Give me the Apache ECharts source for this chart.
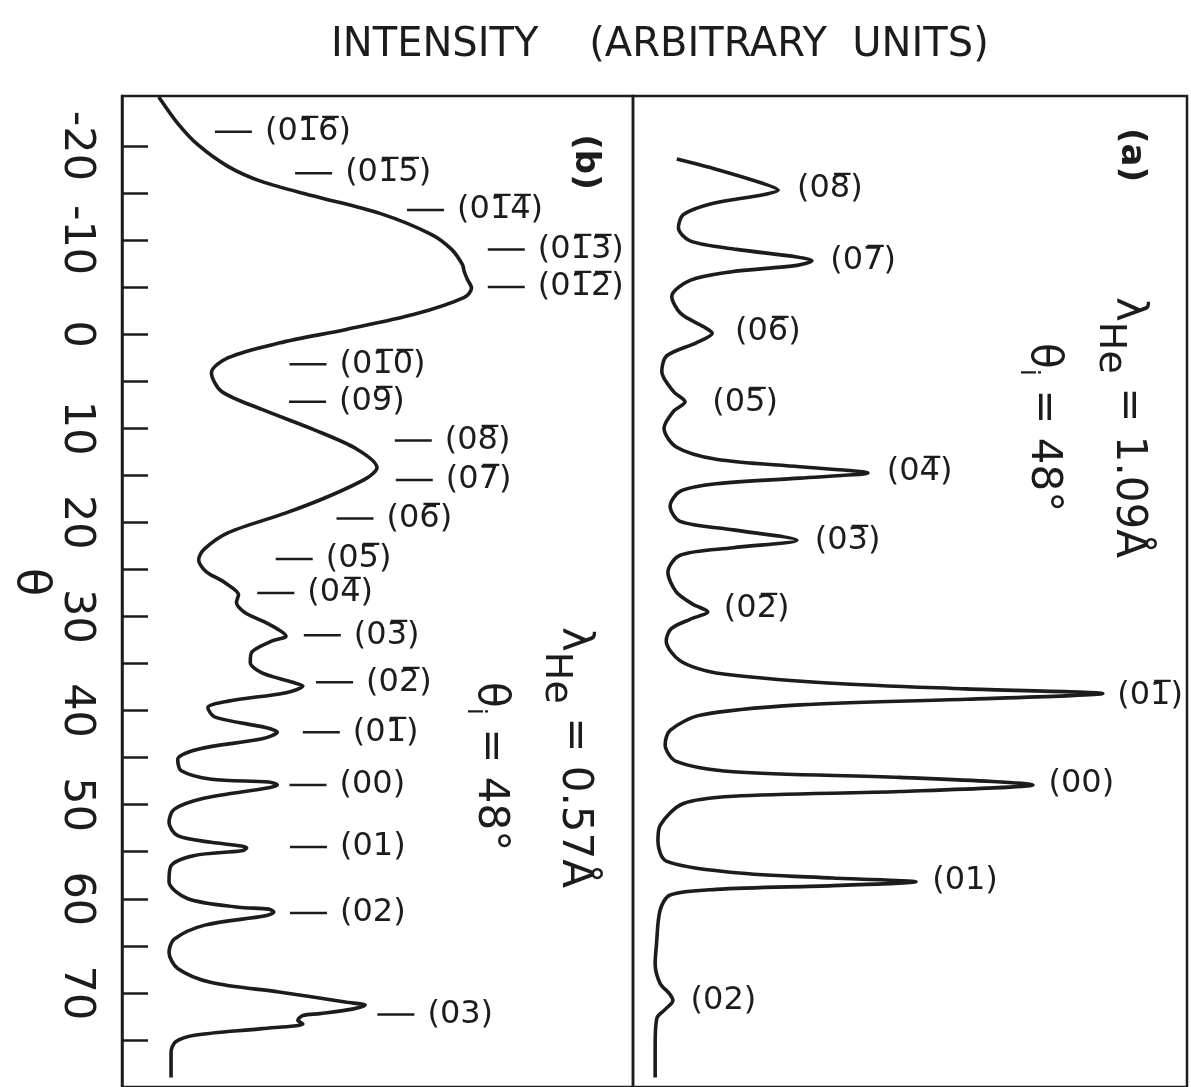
<!DOCTYPE html>
<html>
<head>
<meta charset="utf-8">
<title>He diffraction</title>
<script src="https://cdn.jsdelivr.net/npm/echarts@6/dist/echarts.min.js"></script>
<style>
  html, body { margin: 0; padding: 0; background: #fff; }
  #chart { width: 1191px; height: 1087px; }
</style>
</head>
<body>
<div id="chart"></div>
<script>
//////////// DATA
// theta (deg) and intensity (arbitrary units, 0-100 of panel width)
var thetaB = [-25.2, -22.4, -20.1, -17.8, -16.2, -14.7, -12.8, -10.6, -9.0, -7.4, -6.6, -5.8, -4.9, -3.9, -2.1, -0.5, 0.95, 2.5, 4.1, 6.1, 8.0, 10.1, 12.2, 14.2, 15.3, 17.2, 19.0, 21.1, 22.9, 24.0,
  25.2, 26.4, 27.7, 28.5, 29.6, 30.8, 32.1, 32.6, 33.8, 34.9, 36.0, 37.0, 37.4, 38.1, 39.0, 39.7, 40.7, 41.8, 42.3, 43.0, 44.1, 45.2, 46.4, 47.3, 47.6, 47.9, 48.2, 49.3, 50.5, 51.9,
  53.3, 54.0, 54.4, 54.6, 54.9, 55.4, 56.5, 58.2, 60.0, 60.9, 61.1, 61.4, 61.8, 62.8, 64.3, 65.7, 67.4, 68.9, 69.9, 71.0, 71.3, 71.7, 72.2, 72.4, 72.9, 73.3, 73.8, 74.5, 75.2, 76.3, 79.0];
var intensityB = [7.2, 10.9, 14.9, 20.8, 27.4, 37.3, 50.6, 60.5, 64.5, 66.6, 67.0, 67.6, 68.4, 67.0, 57.2, 43.9, 30.7, 20.8, 17.5, 19.5, 27.4, 37.3, 45.9, 49.9, 47.9, 40.6, 32.1, 20.8, 16.0, 15.0,
  16.4, 20.1, 22.8, 22.4, 24.1, 28.7, 32.1, 29.4, 25.4, 25.1, 27.4, 33.4, 35.4, 32.1, 20.8, 16.8, 18.2, 28.1, 30.4, 27.4, 14.9, 10.9, 11.6, 17.5, 28.7, 30.4, 28.7, 16.2, 10.2, 9.2,
  10.9, 17.5, 23.4, 24.4, 23.4, 14.2, 9.6, 9.2, 12.9, 22.8, 28.7, 29.7, 28.1, 16.2, 10.2, 9.2, 10.9, 17.5, 30.7, 44.0, 47.6, 45.3, 38.7, 35.4, 34.4, 35.4, 27.4, 14.2, 10.5, 9.6, 9.6];

var thetaA = [-18.6, -17.6, -16.0, -15.3, -14.8, -13.9, -12.7, -11.3, -9.9, -9.0, -8.2, -7.8, -7.3, -6.6, -5.7, -4.0, -2.2, -0.8, -0.1, 0.9, 2.3, 4.0, 6.1, 7.2, 8.2, 10.0,
  12.0, 13.3, 14.1, 14.75, 15.3, 15.9, 16.7, 18.3, 19.9, 20.8, 21.9, 22.7, 23.5, 25.3, 27.4, 28.7, 29.5, 30.3, 31.3, 32.6, 34.7, 36.0, 37.1, 37.7, 38.2, 38.8, 39.4, 40.5, 42.1, 43.6,
  45.4, 46.5, 47.1, 47.9, 48.6, 49.1, 49.9, 52.2, 53.9, 56.0, 57.2, 57.8, 58.2, 58.6, 59.0, 59.6, 61.2, 65.1, 66.9, 69.0, 70.1, 70.8, 71.7, 72.7, 75.5, 79.0];
var intensityA = [7.9, 14.5, 23.5, 26.2, 23.5, 14.5, 9.1, 8.2, 10.3, 18.7, 29.6, 32.3, 29.6, 17.5, 10.3, 7.0, 8.6, 12.7, 14.3, 11.5, 6.1, 5.2, 7.3, 9.4, 7.3, 5.6,
  7.8, 15.0, 30.1, 42.4, 30.1, 15.0, 8.5, 6.7, 8.5, 18.1, 29.6, 18.1, 8.5, 6.3, 7.8, 10.8, 13.5, 10.3, 6.9, 6.0, 8.5, 15.0, 36.1, 60.1, 84.8, 60.1, 30.1, 12.1, 6.7, 5.8,
  7.8, 18.1, 48.2, 72.2, 48.2, 18.1, 9.0, 4.9, 4.5, 6.0, 18.1, 36.1, 51.1, 36.1, 15.0, 6.7, 4.9, 4.2, 4.0, 4.9, 6.6, 7.2, 5.9, 4.3, 4.0, 4.0];

// peak labels, panel (b): index, theta, dash position
var peakNamesB = ['-16', '-15', '-14', '-13', '-12', '-10', '-9', '-8', '-7', '-6', '-5', '-4', '-3', '-2', '-1', '0', '1', '2', '3'];
var peakThetaB = [-21.5, -17.1, -13.2, -9.0, -5.0, 3.2, 7.2, 11.3, 15.5, 19.6, 23.9, 27.5, 32.0, 37.0, 42.3, 47.9, 54.5, 61.5, 72.3];
var peakDashB = [21.8, 37.5, 59.4, 75.2, 75.2, 36.4, 36.3, 57.0, 57.2, 45.6, 33.7, 30.1, 39.2, 41.6, 39.0, 36.4, 36.5, 36.5, 53.6];

// peak labels, panel (a)
var peakNamesA = ['-8', '-7', '-6', '-5', '-4', '-3', '-2', '-1', '0', '1', '2'];
var peakThetaA = [-15.5, -7.8, -0.3, 7.3, 14.6, 22.0, 29.2, 38.4, 47.8, 58.1, 70.8];
var peakTextA = [29.6, 35.6, 18.4, 14.3, 45.8, 32.8, 16.4, 87.4, 75.0, 54.0, 10.4];

var thetaTicks = [-20, -15, -10, -5, 0, 5, 10, 15, 20, 25, 30, 35, 40, 45, 50, 55, 60, 65, 70, 75];
var thetaLabels = [-20, -10, 0, 10, 20, 30, 40, 50, 60, 70];

//////////// HELPERS
var FONT = 'DejaVu Sans';
var INK = '#1c1c1c';

function zip(xs, ys) {
  return ys.map(function (y, i) { return [xs[i], y]; });
}
// (0 k) with an overbar on negative k
function hkl(k) {
  if (k.charAt(0) === '-') {
    return '(0' + k.slice(1).split('').map(function (c) { return c + '\u0305'; }).join('') + ')';
  }
  return '(0' + k + ')';
}

var labelDataB = peakNamesB.map(function (n, i) { return { name: hkl(n), value: [peakDashB[i], peakThetaB[i]] }; });
var labelDataA = peakNamesA.map(function (n, i) { return { name: hkl(n), value: [peakTextA[i], peakThetaA[i]] }; });

// rotated annotation with a subscript
function rotatedNote(x, y, main, sub, rest, subSize, subDrop) {
  return {
    type: 'text', x: x, y: y, rotation: -Math.PI / 2,
    style: {
      text: '{m|' + main + '}{s|' + sub + '}{m|' + rest + '}',
      align: 'left', verticalAlign: 'middle', fill: INK,
      rich: {
        m: { fontFamily: FONT, fontSize: 42, lineHeight: 42, color: INK },
        s: { fontFamily: FONT, fontSize: subSize, lineHeight: subSize, padding: [subDrop, 0, 0, 0], color: INK }
      }
    }
  };
}

//////////// CHART
var chart = echarts.init(document.getElementById('chart'));

var yRange = { min: -25.3, max: 80 };
var gridTop = 96, gridHeight = 1006;

var option = {
  animation: false,
  backgroundColor: '#fff',
  title: {
    text: 'INTENSITY    (ARBITRARY  UNITS)',
    left: 326,
    top: 21,
    textStyle: { fontFamily: FONT, fontSize: 40, fontWeight: 'normal', color: INK }
  },
  grid: [
    { left: 122, top: gridTop, width: 511, height: gridHeight, show: true, borderColor: INK, borderWidth: 2.5, backgroundColor: 'transparent' },
    { left: 633, top: gridTop, width: 554, height: gridHeight, show: true, borderColor: INK, borderWidth: 2.5, backgroundColor: 'transparent' }
  ],
  xAxis: [
    { gridIndex: 0, type: 'value', min: 0, max: 100, show: false },
    { gridIndex: 1, type: 'value', min: 0, max: 100, show: false }
  ],
  yAxis: [
    {
      gridIndex: 0, type: 'value', inverse: true, min: yRange.min, max: yRange.max,
      splitLine: { show: false },
      axisLine: { show: true, lineStyle: { color: INK, width: 2.5 } },
      axisTick: { show: true, inside: true, length: 26, lineStyle: { color: INK, width: 2.5 }, customValues: thetaTicks },
      axisLabel: {
        show: true, rotate: -90, margin: 24, customValues: thetaLabels,
        fontFamily: FONT, fontSize: 43, color: INK
      }
    },
    {
      gridIndex: 1, type: 'value', inverse: true, min: yRange.min, max: yRange.max,
      show: false, splitLine: { show: false }
    }
  ],
  series: [
    {
      name: 'b', type: 'line', xAxisIndex: 0, yAxisIndex: 0,
      data: zip(intensityB, thetaB),
      showSymbol: false, smooth: 0.3, silent: true,
      lineStyle: { color: INK, width: 3.6 }
    },
    {
      name: 'a', type: 'line', xAxisIndex: 1, yAxisIndex: 1,
      data: zip(intensityA, thetaA),
      showSymbol: false, smooth: 0.3, silent: true,
      lineStyle: { color: INK, width: 3.6 }
    },
    {
      name: 'labels b', type: 'scatter', xAxisIndex: 0, yAxisIndex: 0,
      data: labelDataB, symbol: 'rect', symbolSize: [37, 2.5], silent: true,
      itemStyle: { color: INK, opacity: 1 },
      label: {
        show: true, position: 'right', distance: 13, opacity: 1,
        formatter: '{b}', fontFamily: FONT, fontSize: 32, color: INK
      }
    },
    {
      name: 'labels a', type: 'scatter', xAxisIndex: 1, yAxisIndex: 1,
      data: labelDataA, symbolSize: 0, silent: true,
      itemStyle: { color: INK, opacity: 1 },
      label: {
        show: true, position: 'right', distance: 0, opacity: 1,
        formatter: '{b}', fontFamily: FONT, fontSize: 32, color: INK
      }
    }
  ],
  graphic: [
    // theta axis name
    { type: 'text', x: 30, y: 582, rotation: -Math.PI / 2,
      style: { text: '\u03B8', fontFamily: FONT, fontSize: 46, fill: INK, align: 'center', verticalAlign: 'middle' } },
    // panel tags
    { type: 'text', x: 585, y: 162, rotation: -Math.PI / 2,
      style: { text: '(b)', fontFamily: FONT, fontSize: 34, fontWeight: 'bold', fill: INK, align: 'center', verticalAlign: 'middle' } },
    { type: 'text', x: 1131, y: 155, rotation: -Math.PI / 2,
      style: { text: '(a)', fontFamily: FONT, fontSize: 34, fontWeight: 'bold', fill: INK, align: 'center', verticalAlign: 'middle' } },
    // conditions
    rotatedNote(1128, 297, '\u03BB', 'He', ' = 1.09\u00C5', 38, 36),
    rotatedNote(1043, 343, '\u03B8', 'i', ' = 48\u00B0', 26, 30),
    rotatedNote(574, 627, '\u03BB', 'He', ' = 0.57\u00C5', 38, 36),
    rotatedNote(490, 682, '\u03B8', 'i', ' = 48\u00B0', 26, 30)
  ]
};

chart.setOption(option);
</script>
</body>
</html>
